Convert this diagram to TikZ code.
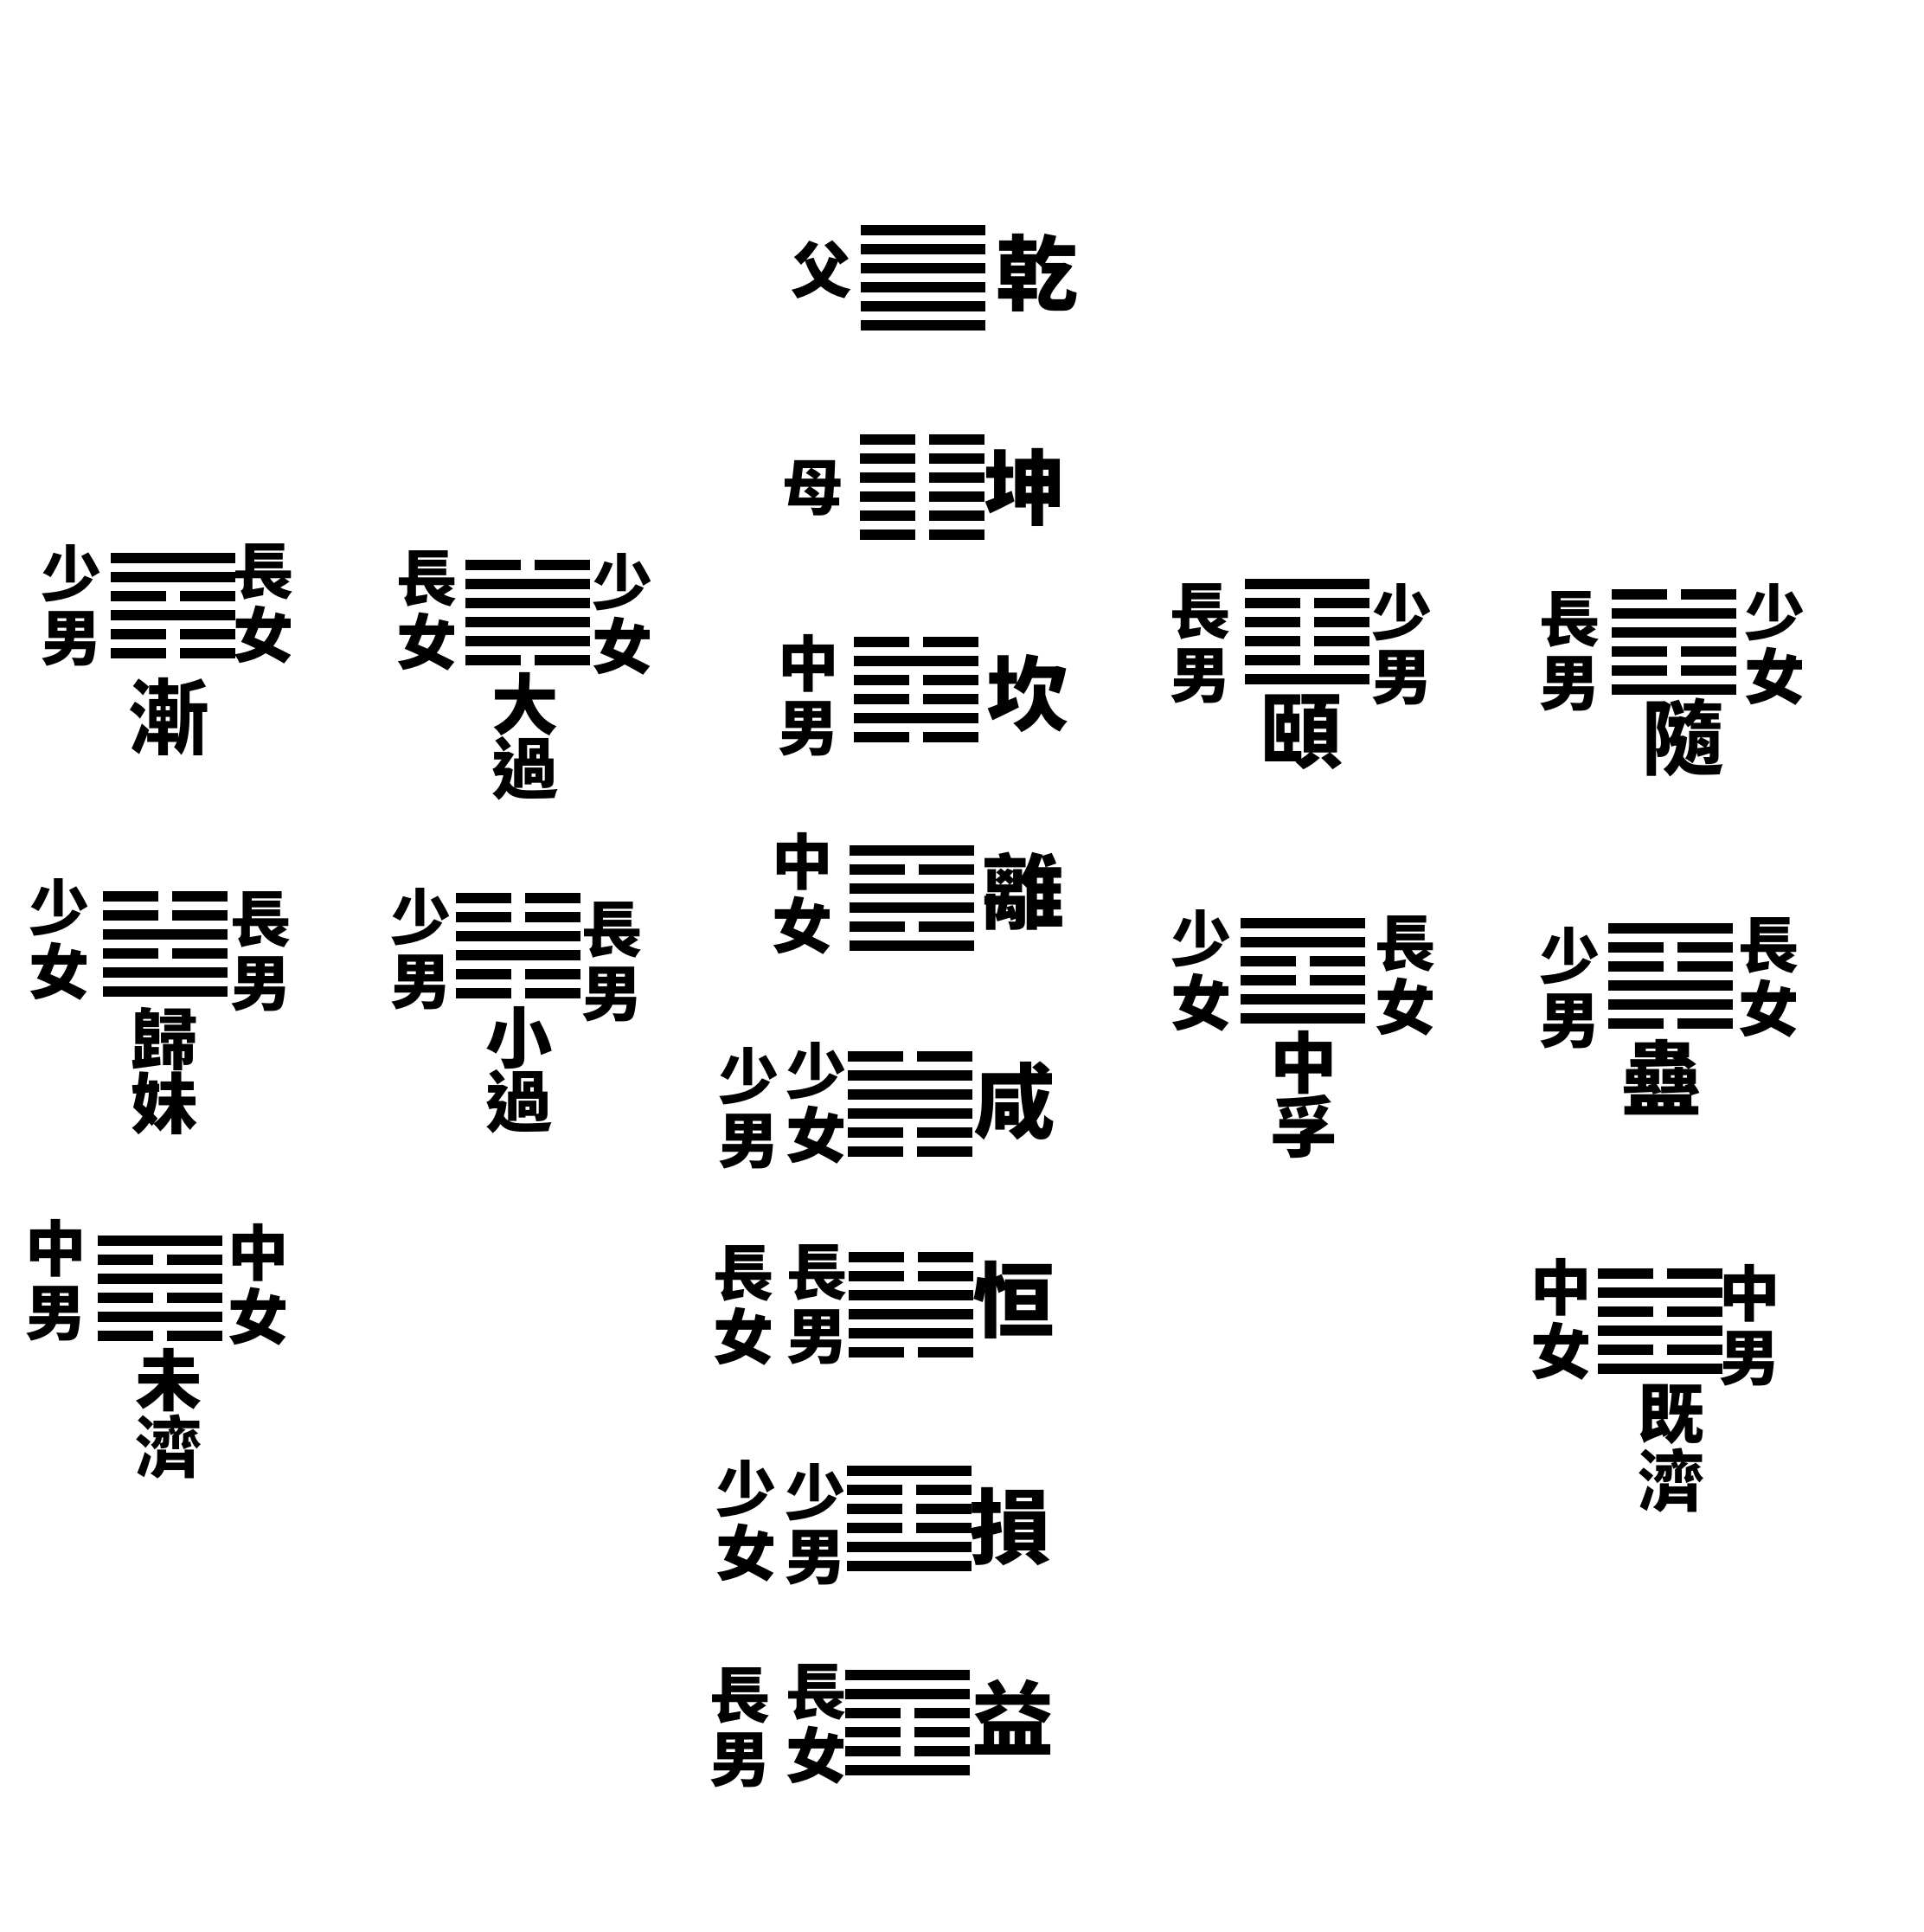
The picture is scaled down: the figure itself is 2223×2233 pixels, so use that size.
\documentclass[tikz,border=0pt]{standalone}
\usepackage{fontspec}
\newfontfamily\cjk{Noto Sans CJK TC}
\tikzset{
  yao/.style={line width=1.2mm},
  kinnode/.style={font={\cjk\bfseries\fontsize{20}{21}\selectfont}, align=center, inner sep=0pt},
  namenode/.style={font={\cjk\bfseries\fontsize{27}{23}\selectfont}, align=center, inner sep=0pt},
  pairnode/.style={font={\cjk\bfseries\fontsize{22}{21}\selectfont}, align=center, inner sep=0pt},
  pics/gua/.style={code={
    \foreach \b [count=\i] in {#1} {
      \ifnum\b=1
        \draw[yao] (-72,{(\i-3.5)*22}) -- (72,{(\i-3.5)*22});
      \else
        \draw[yao] (-72,{(\i-3.5)*22}) -- (-8,{(\i-3.5)*22});
        \draw[yao] (8,{(\i-3.5)*22}) -- (72,{(\i-3.5)*22});
      \fi
    }
  }}
}

\begin{document}
\begin{tikzpicture}[x=0.01cm, y=-0.01cm]
  \useasboundingbox[fill=white] (0,0) rectangle (2223,2233);
  % centre column
  \pic (qiangua) at (1067,321) {gua={1,1,1,1,1,1}};
  \node[kinnode] (fu) at (950,312) {父};
  \node[namenode] (qian) at (1199,315) {乾};
  \pic (kungua) at (1066,563) {gua={0,0,0,0,0,0}};
  \node[kinnode] (mu) at (940,564) {母};
  \node[namenode] (kun) at (1185,563) {坤};
  \pic (kangua) at (1059,797) {gua={0,1,0,0,1,0}};
  \node[kinnode] (kank) at (935,804) {中\\男};
  \node[namenode] (kan) at (1188,802) {坎};
  \pic (ligua) at (1054,1038) {gua={1,0,1,1,0,1}};
  \node[kinnode] (lik) at (928,1033) {中\\女};
  \node[namenode] (li) at (1183,1030) {離};
  \pic (xiangua) at (1052,1276) {gua={0,1,1,1,0,0}};
  \node[kinnode] (xiana) at (866,1281) {少\\男};
  \node[kinnode] (xianb) at (944,1275) {少\\女};
  \node[namenode] (xian) at (1173,1272) {咸};
  \pic (henggua) at (1053,1508) {gua={0,0,1,1,1,0}};
  \node[kinnode] (henga) at (860,1509) {長\\女};
  \node[kinnode] (hengb) at (945,1508) {長\\男};
  \node[namenode] (heng) at (1172,1502) {恒};
  \pic (sungua) at (1051,1755) {gua={1,0,0,0,1,1}};
  \node[kinnode] (suna) at (863,1758) {少\\女};
  \node[kinnode] (sunb) at (943,1762) {少\\男};
  \node[namenode] (sun) at (1168,1764) {損};
  \pic (yigua) at (1049,1991) {gua={1,1,0,0,0,1}};
  \node[kinnode] (yia) at (856,1997) {長\\男};
  \node[kinnode] (yib) at (944,1993) {長\\女};
  \node[namenode] (yi) at (1171,1985) {益};
  % left side
  \pic (jiangua) at (200,700) {gua={1,1,0,1,0,0}};
  \node[kinnode] (jiana) at (83,700) {少\\男};
  \node[kinnode] (jianb) at (305,698) {長\\女};
  \node[namenode] (jian) at (195,828) {漸};
  \pic (daguogua) at (610,708) {gua={0,1,1,1,1,0}};
  \node[kinnode] (daguoa) at (494,706) {長\\女};
  \node[kinnode] (daguob) at (720,710) {少\\女};
  \node[pairnode] (daguo) at (607,851) {大\\過};
  \pic (guimeigua) at (191,1091) {gua={0,0,1,0,1,1}};
  \node[kinnode] (guimeia) at (69,1086) {少\\女};
  \node[kinnode] (guimeib) at (302,1100) {長\\男};
  \node[pairnode] (guimei) at (190,1238) {歸\\妹};
  \pic (xiaoguogua) at (599,1093) {gua={0,0,1,1,0,0}};
  \node[kinnode] (xiaoguoa) at (487,1097) {少\\男};
  \node[kinnode] (xiaoguob) at (708,1112) {長\\男};
  \node[pairnode] (xiaoguo) at (600,1237) {小\\過};
  \pic (weijigua) at (185,1489) {gua={1,0,1,0,1,0}};
  \node[kinnode] (weijia) at (65,1480) {中\\男};
  \node[kinnode] (weijib) at (299,1485) {中\\女};
  \node[pairnode] (weiji) at (195,1634) {未\\濟};
  % right side
  \pic (yigua2) at (1511,730) {gua={1,0,0,0,0,1}};
  \node[kinnode] (yiia) at (1388,744) {長\\男};
  \node[kinnode] (yiib) at (1621,745) {少\\男};
  \node[namenode] (yii) at (1505,846) {頤};
  \pic (suigua) at (1935,742) {gua={0,1,1,0,0,1}};
  \node[kinnode] (suia) at (1815,753) {長\\男};
  \node[kinnode] (suib) at (2052,745) {少\\女};
  \node[namenode] (sui) at (1946,852) {隨};
  \pic (zhongfugua) at (1506,1122) {gua={1,1,0,0,1,1}};
  \node[kinnode] (zhongfua) at (1389,1122) {少\\女};
  \node[kinnode] (zhongfub) at (1625,1128) {長\\女};
  \node[pairnode] (zhongfu) at (1507,1265) {中\\孚};
  \pic (gugua) at (1931,1128) {gua={1,0,0,1,1,0}};
  \node[kinnode] (gua) at (1815,1142) {少\\男};
  \node[kinnode] (gub) at (2045,1130) {長\\女};
  \node[namenode] (gu) at (1921,1245) {蠱};
  \pic (jijigua) at (1919,1527) {gua={0,1,0,1,0,1}};
  \node[kinnode] (jijia) at (1805,1525) {中\\女};
  \node[kinnode] (jijib) at (2023,1532) {中\\男};
  \node[pairnode] (jiji) at (1932,1674) {既\\濟};
\end{tikzpicture}
\end{document}
